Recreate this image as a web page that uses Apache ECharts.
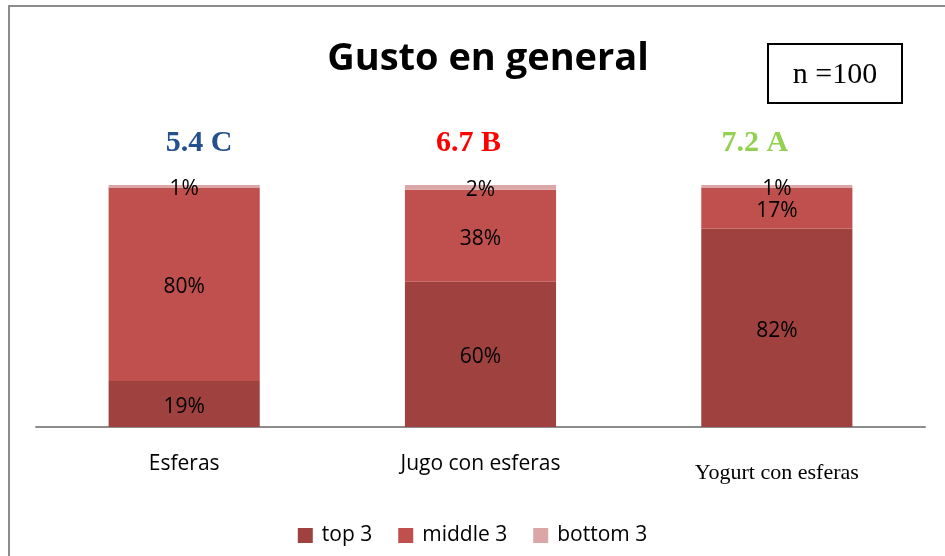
<!DOCTYPE html>
<html>
<head>
<meta charset="utf-8">
<script src="https://cdn.jsdelivr.net/npm/echarts@6/dist/echarts.min.js"></script>
<style>
  html, body { margin: 0; padding: 0; background: #fff; }
  #chart { width: 945px; height: 556px; }
</style>
</head>
<body>
<div id="chart"></div>
<script>
// datos
const categories = ['Esferas', 'Jugo con esferas', 'Yogurt con esferas']
const top3 = [19, 60, 82]
const middle3 = [80, 38, 17]
const bottom3 = [1, 2, 1]
const scores = ['5.4 C', '6.7 B', '7.2 A']
const scoreColors = ['#24508c', '#ff0000', '#92d050']
const sampleText = 'n =100'

const sans = '"Open Sans", "Noto Sans", sans-serif'
const serif = '"Liberation Serif", "DejaVu Serif", serif'

const chart = echarts.init(document.getElementById('chart'))

const pctLabel = {
  show: true,
  position: 'inside',
  color: '#000',
  fontFamily: sans,
  fontSize: 21,
  offset: [0, 3],
  formatter: '{c}%'
}

// offsets de las notas (no estan centradas en las barras)
const scoreOffsets = [[15, 0], [-12, 0], [-22, 0]]

chart.setOption({
  animation: false,
  title: {
    text: 'Gusto en general',
    left: 483,
    top: 35,
    textAlign: 'center',
    textStyle: {
      fontFamily: sans,
      fontWeight: 'bold',
      fontSize: 38,
      color: '#000'
    }
  },
  legend: {
    bottom: 5,
    left: 'center',
    itemWidth: 15,
    itemHeight: 15,
    itemGap: 26,
    icon: 'rect',
    textStyle: { fontFamily: sans, fontSize: 21, color: '#000', padding: [0, 0, 0, 4] },
    data: ['top 3', 'middle 3', 'bottom 3']
  },
  grid: {
    left: 36,
    right: 20,
    top: 185,
    bottom: 129,
    containLabel: false,
    outerBoundsMode: 'none'
  },
  xAxis: {
    type: 'category',
    data: categories.map((c, i) => ({
      value: c,
      textStyle: i === 2
        ? { fontFamily: serif, fontSize: 22, padding: [8, 0, 0, 0] }
        : { fontFamily: sans, fontSize: 21 }
    })),
    axisTick: { show: false },
    axisLine: { lineStyle: { color: '#8c8c8c', width: 2 } },
    axisLabel: { color: '#000', margin: 27 }
  },
  yAxis: {
    type: 'value',
    min: 0,
    max: 100,
    show: false,
    splitLine: { show: false }
  },
  graphic: [
    {
      type: 'rect',
      shape: { x: 9, y: 6, width: 1000, height: 600 },
      style: { fill: 'none', stroke: '#8c8c8c', lineWidth: 2 },
      silent: true
    },
    {
      type: 'rect',
      shape: { x: 768, y: 44, width: 134, height: 59 },
      style: { fill: '#fff', stroke: '#000', lineWidth: 2 }
    },
    {
      type: 'text',
      x: 835,
      y: 75,
      style: {
        text: sampleText,
        fontFamily: serif,
        fontSize: 30,
        fill: '#000',
        align: 'center',
        verticalAlign: 'middle'
      }
    }
  ],
  series: [
    {
      name: 'top 3',
      type: 'bar',
      stack: 'total',
      barWidth: '51%',
      itemStyle: { color: '#9e413f' },
      label: pctLabel,
      data: top3
    },
    {
      name: 'middle 3',
      type: 'bar',
      stack: 'total',
      itemStyle: { color: '#c0504d' },
      label: pctLabel,
      data: middle3
    },
    {
      name: 'bottom 3',
      type: 'bar',
      stack: 'total',
      itemStyle: { color: '#dba7a6' },
      label: pctLabel,
      data: bottom3
    },
    {
      // notas sobre cada barra
      name: 'nota',
      type: 'scatter',
      symbolSize: 0,
      silent: true,
      itemStyle: { opacity: 1 },
      data: scores.map((s, i) => ({
        value: top3[i] + middle3[i] + bottom3[i],
        label: {
          show: true,
          position: 'top',
          distance: 27,
          offset: scoreOffsets[i],
          formatter: s,
          color: scoreColors[i],
          opacity: 1,
          fontFamily: serif,
          fontWeight: 'bold',
          fontSize: 30
        }
      }))
    }
  ]
})
</script>
</body>
</html>
